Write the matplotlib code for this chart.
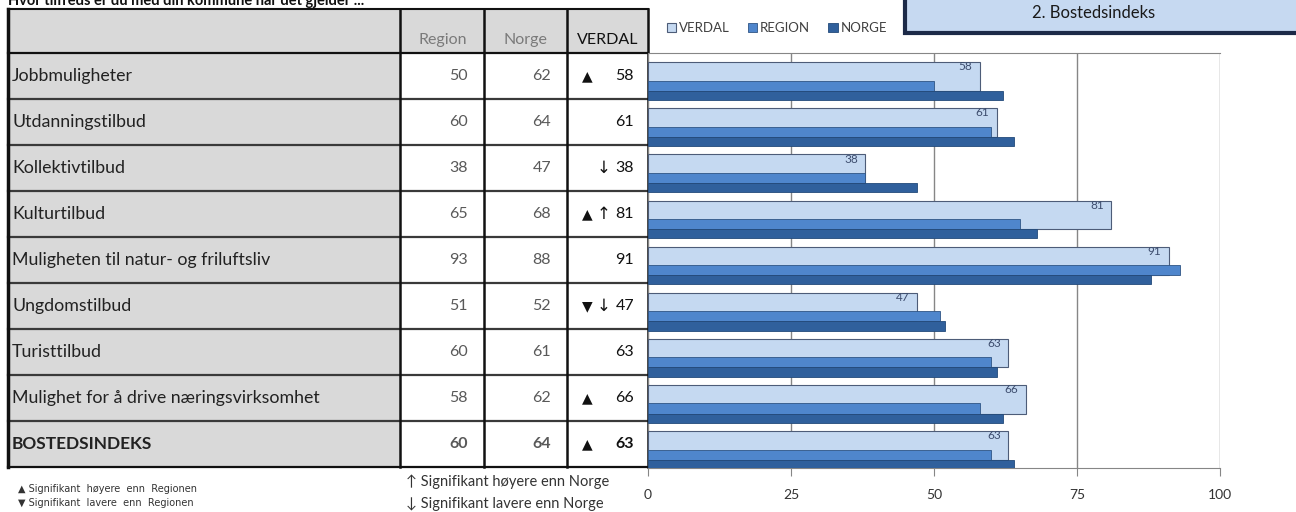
import matplotlib
matplotlib.use("Agg")
import matplotlib.pyplot as plt
from matplotlib.patches import Rectangle
import numpy as np

plt.rcParams['font.family'] = ['Lato', 'DejaVu Sans']

categories = ["Jobbmuligheter", "Utdanningstilbud", "Kollektivtilbud", "Kulturtilbud",
              "Muligheten til natur- og friluftsliv", "Ungdomstilbud", "Turisttilbud",
              "Mulighet for å drive næringsvirksomhet", "BOSTEDSINDEKS"]
verdal = [58, 61, 38, 81, 91, 47, 63, 66, 63]
region = [50, 60, 38, 65, 93, 51, 60, 58, 60]
norge = [62, 64, 47, 68, 88, 52, 61, 62, 64]
# significance vs region (triangle) and vs Norge (arrow)
sig_region = ["▲", "", "", "▲", "", "▼", "", "▲", "▲"]
sig_norge = ["", "", "↓", "↑", "", "↓", "", "", ""]
xticks = [0, 25, 50, 75, 100]

W, H = 1296, 512
fig = plt.figure(figsize=(W / 100, H / 100), dpi=100)

# pixel-space axes for the table and decorations
tab = fig.add_axes([0, 0, 1, 1])
tab.set_xlim(0, W)
tab.set_ylim(H, 0)
tab.axis("off")

grey = "#d9d9d9"
x_left, x_c1, x_c2, x_c3, x_right = 8, 400, 484, 567, 648
y_top, y_head = 9, 53
row_h = (467 - 53) / len(categories)
n = len(categories)
y_bot = y_head + n * row_h

# backgrounds
tab.add_patch(Rectangle((x_left, y_top), x_right - x_left, y_head - y_top, facecolor=grey, edgecolor="none"))
tab.add_patch(Rectangle((x_left, y_head), x_c1 - x_left, y_bot - y_head, facecolor=grey, edgecolor="none"))

# horizontal lines
tab.plot([x_left, x_right], [y_top, y_top], color="#111111", lw=1.5)
for i in range(n + 1):
    y = y_head + i * row_h
    c = "#111111" if i in (0, n) else "#3a3a3a"
    tab.plot([x_left, x_right], [y, y], color=c, lw=1.6)
# vertical lines
tab.plot([x_left, x_left], [y_top, y_bot], color="#111111", lw=2.5)
for x in (x_c1, x_c2, x_c3, x_right):
    tab.plot([x, x], [y_top, y_bot], color="#111111", lw=1.8)

# header
tab.text(443, 44, "Region", ha="center", va="baseline", fontsize=11.5, color="#7a7a7a")
tab.text(525, 44, "Norge", ha="center", va="baseline", fontsize=11.5, color="#7a7a7a")
tab.text(608, 44, "VERDAL", ha="center", va="baseline", fontsize=11.5, color="#111111")

for i, cat in enumerate(categories):
    yc = y_head + (i + 0.5) * row_h
    is_total = cat == "BOSTEDSINDEKS"
    bold = "bold" if is_total else "normal"
    tab.text(12, yc, cat, ha="left", va="center", fontsize=12.4 if is_total else 12.8,
             color="#222222", fontweight=bold)
    tab.text(468, yc, str(region[i]), ha="right", va="center", fontsize=11.5, color="#595959", fontweight=bold)
    tab.text(551, yc, str(norge[i]), ha="right", va="center", fontsize=11.5, color="#595959", fontweight=bold)
    tab.text(634, yc, str(verdal[i]), ha="right", va="center", fontsize=11.5, color="#111111", fontweight=bold)
    if sig_region[i]:
        tab.text(587, yc, sig_region[i], ha="center", va="center", fontsize=10, color="#111111",
                 family="DejaVu Sans")
    if sig_norge[i]:
        tab.text(604, yc, sig_norge[i], ha="center", va="center", fontsize=12, color="#111111",
                 family="DejaVu Sans")

# title (cut off at top edge, as in the source image)
tab.text(8, 5, "Hvor tilfreds er du med din kommune når det gjelder ...", ha="left",
         va="baseline", fontsize=10.5, fontweight="bold", color="#111111")

# section box
tab.add_patch(Rectangle((905, -10), 420, 43, facecolor="#c6d9f1", edgecolor="#1c2a48", lw=3))
tab.text(1094, 13, "2. Bostedsindeks", ha="center", va="center", fontsize=12, color="#1a1a1a")

# footnotes
tab.text(18, 489, "▲ Signifikant  høyere  enn  Regionen", ha="left", va="center", fontsize=7,
         color="#333333", family="DejaVu Sans")
tab.text(18, 503, "▼ Signifikant  lavere  enn  Regionen", ha="left", va="center", fontsize=7,
         color="#333333", family="DejaVu Sans")
tab.text(406, 482, "↑ Signifikant høyere enn Norge", ha="left", va="center", fontsize=10.5,
         color="#333333")
tab.text(406, 504, "↓ Signifikant lavere enn Norge", ha="left", va="center", fontsize=10.5,
         color="#333333")

# bar chart
ax = fig.add_axes([648 / W, (H - 468) / H, (1220 - 648) / W, (468 - 53) / H])
y = np.arange(n)
b1 = ax.barh(y + 0.01, verdal, height=0.62, color="#c5d9f1", edgecolor="#4d5c78", lw=0.8,
             zorder=2, label="VERDAL")
b2 = ax.barh(y + 0.21, region, height=0.22, color="#4f86cc", edgecolor="#2f5585", lw=0.6,
             zorder=3, label="REGION")
b3 = ax.barh(y + 0.42, norge, height=0.2, color="#30609c", edgecolor="#234a7a", lw=0.6,
             zorder=3, label="NORGE")
for i, v in enumerate(verdal):
    ax.text(v - 1.3, i - 0.2, str(v), ha="right", va="center", fontsize=8.5, color="#3d4d6e", zorder=4)

ax.set_xlim(0, 100)
ax.set_ylim(n - 0.5, -0.5)
ax.set_xticks(xticks)
ax.set_yticks(np.arange(n + 1) - 0.5)
ax.set_yticklabels([])
ax.tick_params(axis="y", length=0)
ax.tick_params(axis="x", length=6, color="#868686", labelsize=10, labelcolor="#333333", pad=9)
ax.grid(axis="x", color="#868686", lw=1, zorder=0)
for s in ("top", "bottom"):
    ax.spines[s].set_color("#868686")
ax.spines["right"].set_visible(False)
ax.spines["left"].set_visible(False)
ax.set_axisbelow(True)

fig.legend(handles=[b1, b2, b3], loc="center left", bbox_to_anchor=(655 / W, 1 - 28 / H),
           ncol=3, frameon=False, fontsize=9.5, handlelength=0.7, handleheight=0.7,
           handletextpad=0.2, columnspacing=1.4, labelcolor="#404040")

fig.savefig("out.png", dpi=100)
